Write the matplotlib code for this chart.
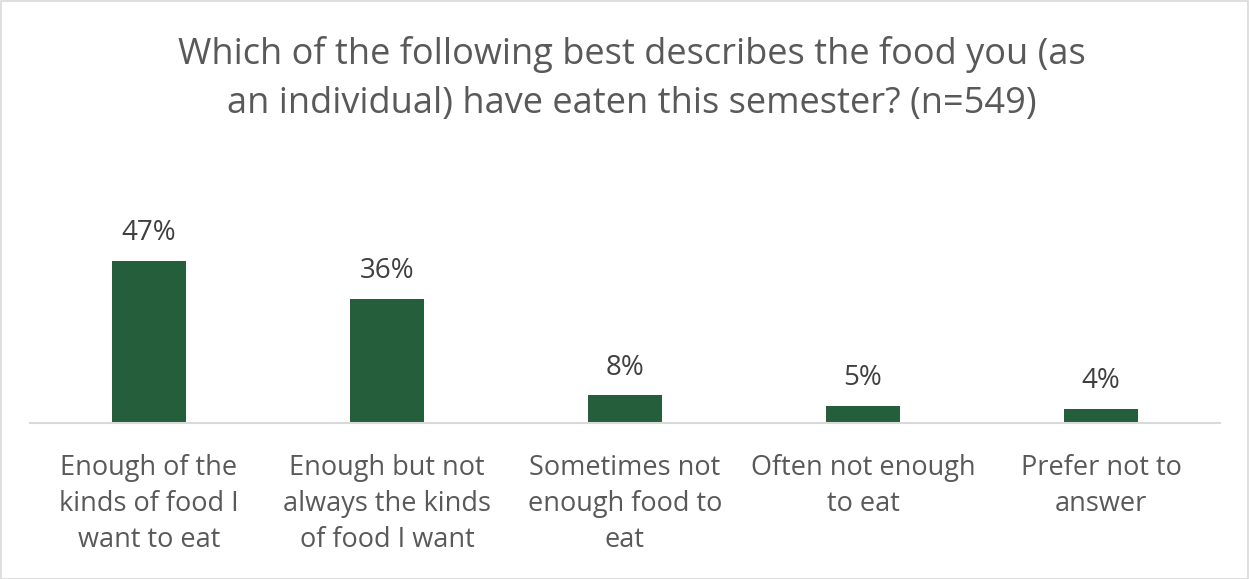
import matplotlib.pyplot as plt
from matplotlib.patches import Rectangle

categories = [
    "Enough of the\nkinds of food I\nwant to eat",
    "Enough but not\nalways the kinds\nof food I want",
    "Sometimes not\nenough food to\neat",
    "Often not enough\nto eat",
    "Prefer not to\nanswer",
]
values = [47, 36, 8, 5, 4]
value_labels = ["47%", "36%", "8%", "5%", "4%"]
title = "Which of the following best describes the food you (as\nan individual) have eaten this semester? (n=549)"

W, H = 1249, 579
plt.rcParams["font.family"] = ["Open Sans", "DejaVu Sans"]
fig = plt.figure(figsize=(W / 100, H / 100), dpi=100)

# axes: bottom at y=423, spans x 30..1220
ax_bottom = 423
ax_top = 180
ax = fig.add_axes([30 / W, 1 - ax_bottom / H, 1190 / W, (ax_bottom - ax_top) / H])
ymax = (ax_bottom - ax_top) / 3.45
x = range(len(categories))
ax.bar(x, values, width=0.315, color="#245E3A")
ax.set_xlim(-0.5, len(categories) - 0.5)
ax.set_ylim(0, ymax)
for xi, v, lab in zip(x, values, value_labels):
    ax.annotate(lab, (xi, v), xytext=(0, 10), textcoords="offset points",
                ha="center", va="bottom", fontsize=20, color="#404040")

for s in ["top", "right", "left"]:
    ax.spines[s].set_visible(False)
ax.spines["bottom"].set_color("#D9D9D9")
ax.spines["bottom"].set_linewidth(1.5)
ax.set_yticks([])
ax.set_xticks(list(x))
ax.set_xticklabels(categories, fontsize=19.5, color="#595959", linespacing=1.4)
ax.tick_params(axis="x", length=0, pad=22)

fig.text(632 / W, 1 - 79 / H, title, ha="center", va="center",
         fontsize=26, color="#595959", linespacing=1.45)

fig.add_artist(Rectangle((0.5 / W, 0.5 / H), 1 - 1.5 / W, 1 - 1.5 / H,
                         transform=fig.transFigure, fill=False,
                         edgecolor="#D9D9D9", linewidth=1.2))

fig.savefig("out.png", dpi=100)
